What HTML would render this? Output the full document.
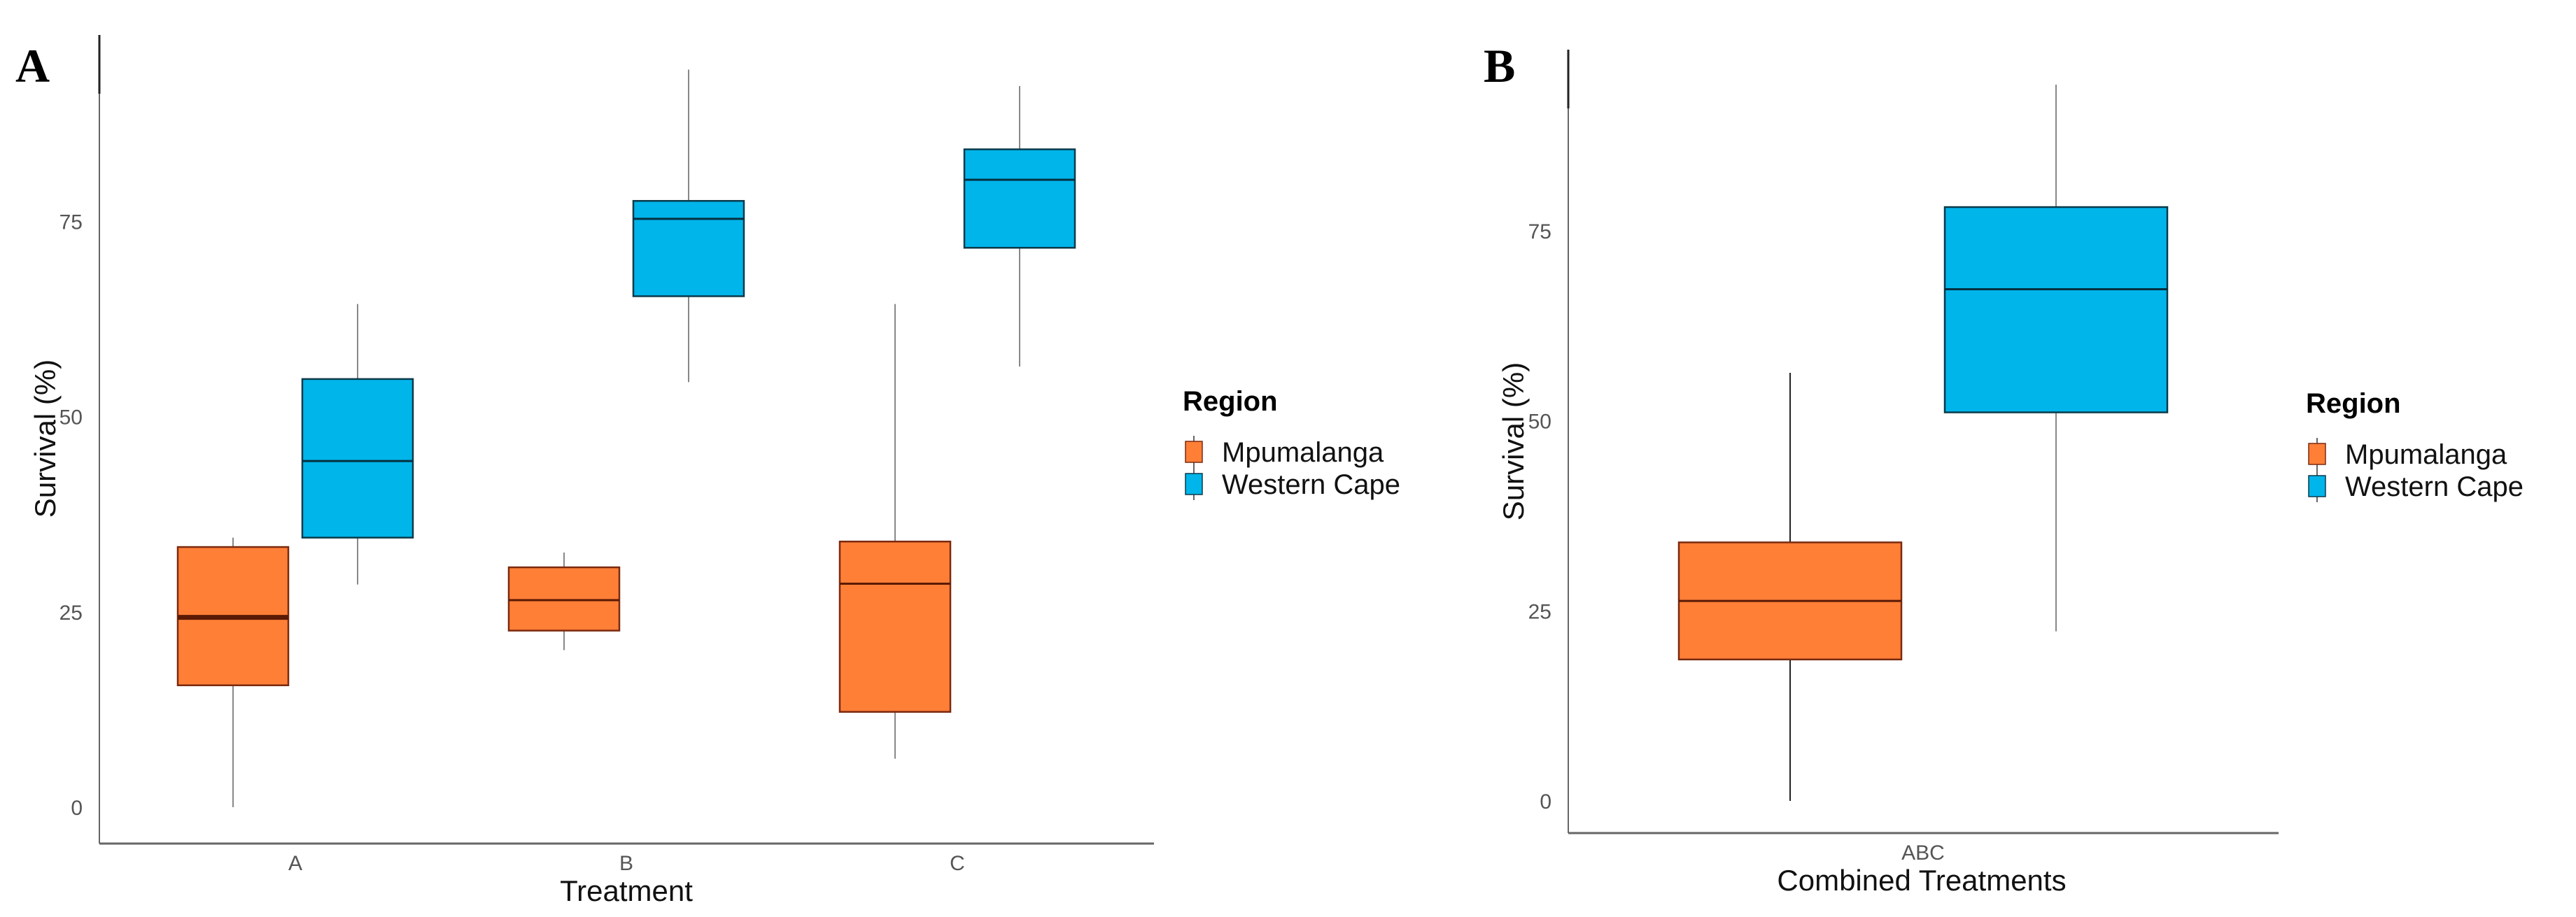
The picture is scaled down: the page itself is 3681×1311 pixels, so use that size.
<!DOCTYPE html>
<html><head><meta charset="utf-8"><style>
html,body{margin:0;padding:0;background:#fff;}
svg{display:block;font-family:"Liberation Sans",sans-serif;}
</style></head><body>
<svg id="fig" width="3681" height="1311" viewBox="0 0 3681 1311" xmlns="http://www.w3.org/2000/svg"></svg>
<script>
// Panel A data
const catsA = ["A","B","C"];
const mpuA = [[0,15.6,24.3,33.3,34.5],[20.1,22.6,26.5,30.7,32.6],[6.2,12.2,28.6,34.0,64.4]];
const wcA  = [[28.5,34.5,44.3,54.8,64.4],[54.4,65.4,75.3,77.6,94.4],[56.4,71.6,80.3,84.2,92.3]];
// Panel B data
const catsB = ["ABC"];
const mpuB = [[0,18.6,26.3,34.0,56.3]];
const wcB  = [[22.3,51.1,67.3,78.1,94.2]];
const yTicks = [0,25,50,75];
const seriesNames = ["Mpumalanga","Western Cape"];

const NS="http://www.w3.org/2000/svg";
const svg=document.getElementById('fig');
function mk(tag,attrs,parent){const e=document.createElementNS(NS,tag);for(const k in attrs)e.setAttribute(k,attrs[k]);(parent||svg).appendChild(e);return e;}
const ORANGE="#FF7F37", BLUE="#00B5EA";

function panel(p){
  const g=mk('g',{});
  
  
  const y=v=>p.y0 - v*p.ppu;
  const n=p.cats.length, bw=(p.xEnd-p.xAxis)/n;
  const xc=i=>p.xAxis + p.padL + i*p.step;
  // axes
  const ya=mk('line',{x1:p.xAxis,y1:p.yTop,x2:p.xAxis,y2:p.yAxis,stroke:'#666','stroke-width':2},g);
  
  const yt=mk('line',{x1:p.xAxis,y1:p.yTop,x2:p.xAxis,y2:p.yTop+84,stroke:'#222','stroke-width':3},g);
  
  const xa=mk('line',{x1:p.xAxis,y1:p.yAxis,x2:p.xEnd,y2:p.yAxis,stroke:'#666','stroke-width':3},g);
  
  yTicks.forEach(t=>{
    const tx=mk('text',{x:p.xAxis-24,y:y(t)+11,'text-anchor':'end','font-size':30,fill:'#555'},g);
    tx.textContent=t;
    
  });
  p.cats.forEach((c,i)=>{
    const tx=mk('text',{x:xc(i),y:p.yAxis+38,'text-anchor':'middle','font-size':30,fill:'#555'},g);
    tx.textContent=c;
    
    [[p.mpu[i],ORANGE,-p.off,p.mpuWhisk],[p.wc[i],BLUE,p.off,'#888']].forEach(([d,col,o,wcol],k)=>{
      const cx=xc(i)+o, hw=p.bw/2;
      const wl=mk('line',{x1:cx,y1:y(d[4]),x2:cx,y2:y(d[0]),stroke:wcol,'stroke-width':2},g);
      
      const r=mk('rect',{x:cx-hw,y:y(d[3]),width:p.bw,height:y(d[1])-y(d[3]),fill:col,stroke:k?'#0a3a4a':'#7a2a10','stroke-width':2.5},g);
      
      
      const m=mk('line',{x1:cx-hw,y1:y(d[2]),x2:cx+hw,y2:y(d[2]),stroke:k?'#063040':'#5a1a05','stroke-width':(i==0&&k==0&&p.name=='panel-a')?7:3},g);
      
    });
  });
  const xt=mk('text',{x:p.xTitle,y:p.yAxis+82,'text-anchor':'middle','font-size':42,fill:'#111'},g);
  xt.textContent=p.xLabel;
  const yl=mk('text',{x:p.yLabX,y:p.yLabY,'text-anchor':'middle','font-size':42,fill:'#111',transform:`rotate(-90 ${p.yLabX} ${p.yLabY})`},g);
  yl.textContent="Survival (%)";
  const pl=mk('text',{x:p.lx,y:p.ly,'font-size':68,'font-weight':'bold','font-family':'Liberation Serif, serif',fill:'#000'},g);
  pl.textContent=p.letter;
  // legend
  const lg=mk('g',{},g);
  const lt=mk('text',{x:p.legX,y:p.legY,'font-size':40,'font-weight':'bold',fill:'#000'},lg);
  lt.textContent="Region";
  [ORANGE,BLUE].forEach((col,k)=>{
    const yy=p.legY+60+k*46;
    const ln=mk('line',{x1:p.legX+16,y1:yy-24,x2:p.legX+16,y2:yy+22,stroke:'#666','stroke-width':2},lg);
    
    const kr=mk('rect',{x:p.legX+4,y:yy-16,width:24,height:30,fill:col,stroke:k?'#0a3a4a':'#7a2a10','stroke-width':1.5},lg);
    
    const kt=mk('text',{x:p.legX+56,y:yy+13,'font-size':40,fill:'#111'},lg);
    kt.textContent=seriesNames[k];
  });
}

panel({name:'panel-a',letter:'A',lx:22,ly:117,cats:catsA,mpu:mpuA,wc:wcA,xAxis:142,xEnd:1649,yTop:50,yAxis:1206,
  y0:1154,ppu:11.17,padL:280,step:473,off:89,bw:158,mpuWhisk:'#888',xLabel:'Treatment',xTitle:895,yLabX:79,yLabY:627,legX:1690,legY:587});
panel({name:'panel-b',letter:'B',lx:2120,ly:117,cats:catsB,mpu:mpuB,wc:wcB,xAxis:2241,xEnd:3256,yTop:71,yAxis:1191,
  y0:1145,ppu:10.87,padL:507,step:0,off:190,bw:318,mpuWhisk:'#222',xLabel:'Combined Treatments',xTitle:2746,yLabX:2177,yLabY:631,legX:3295,legY:590});
</script>
</body></html>
